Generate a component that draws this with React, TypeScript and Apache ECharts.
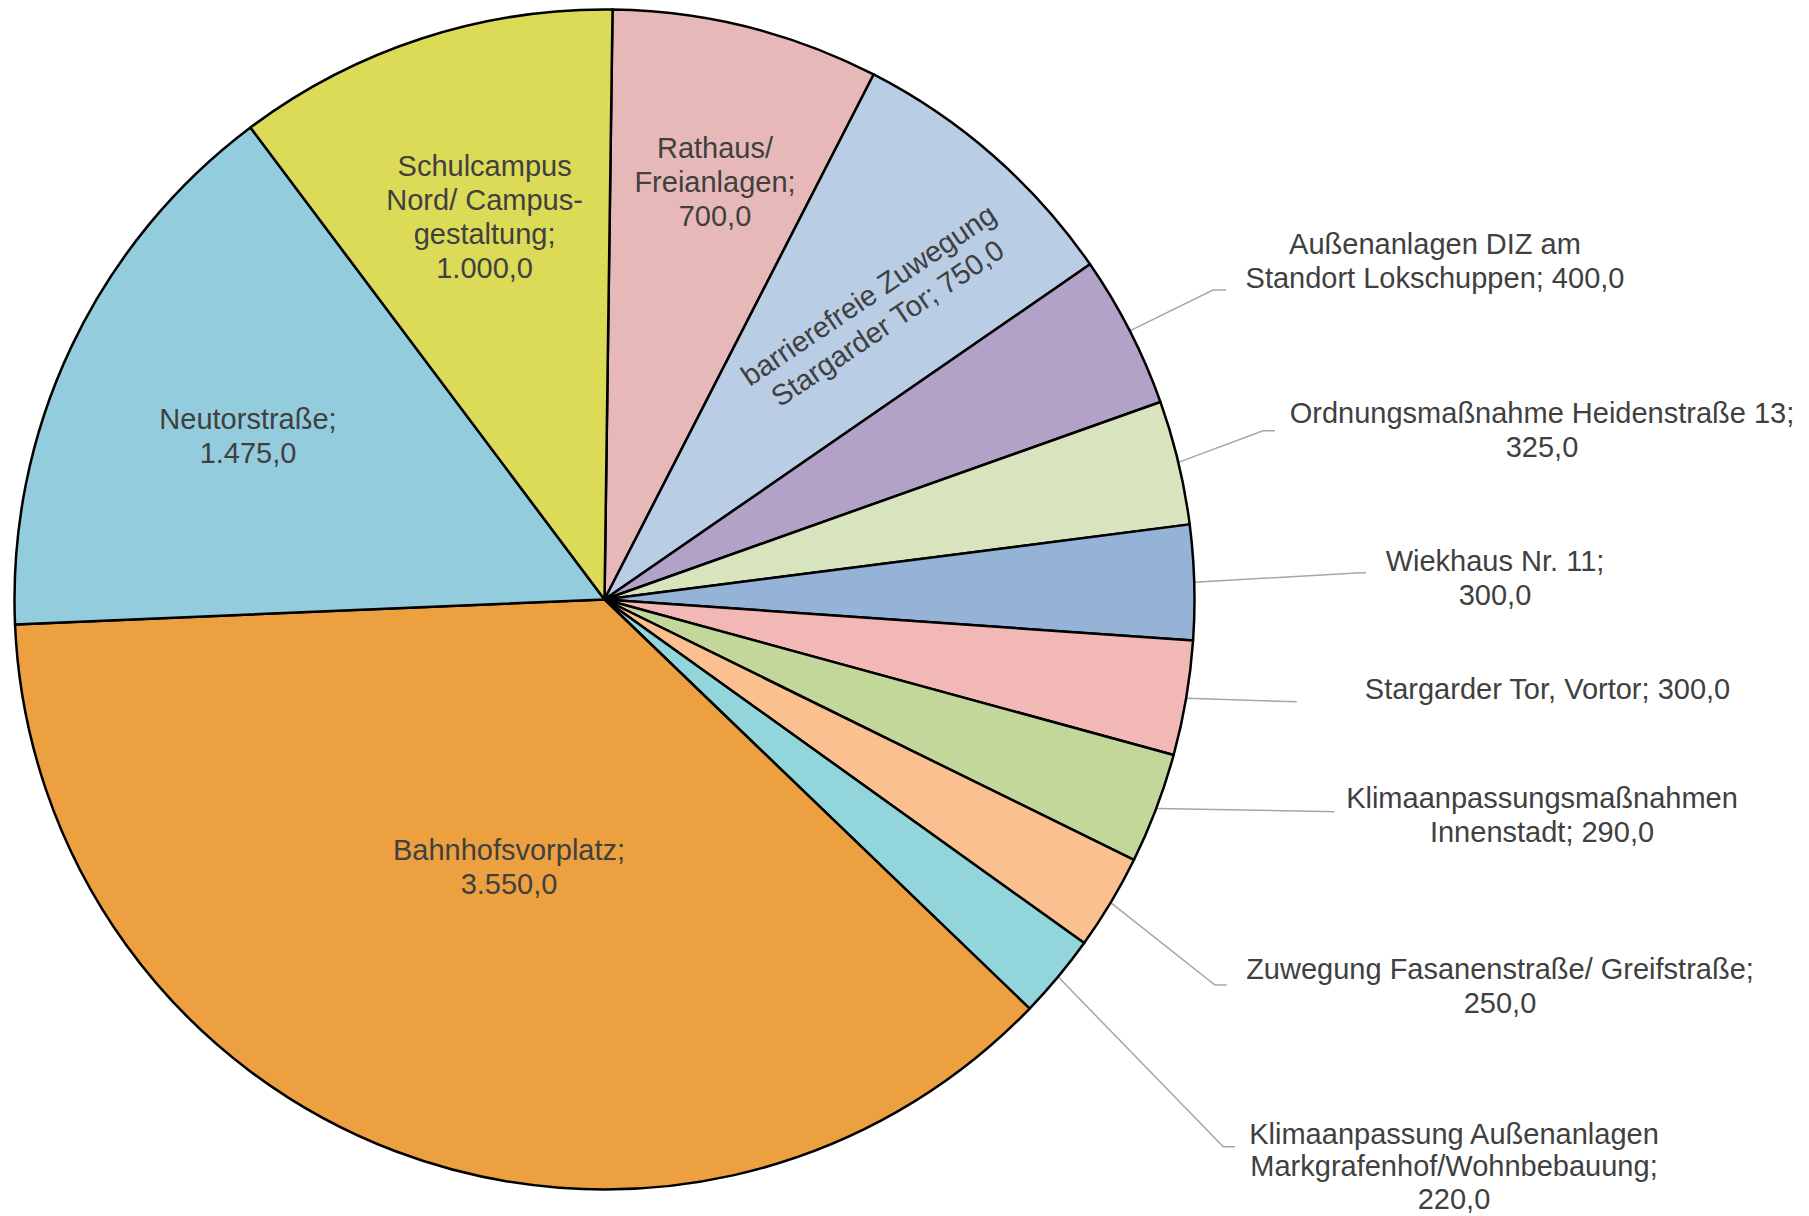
import React, { useEffect, useRef } from "react";
import * as echarts from "echarts";

// ---- data (clockwise from 12 o'clock) ----
const categories: string[] = [
  "Rathaus/\nFreianlagen",
  "barrierefreie Zuwegung\nStargarder Tor",
  "Außenanlagen DIZ am\nStandort Lokschuppen",
  "Ordnungsmaßnahme Heidenstraße 13",
  "Wiekhaus Nr. 11",
  "Stargarder Tor, Vortor",
  "Klimaanpassungsmaßnahmen\nInnenstadt",
  "Zuwegung Fasanenstraße/ Greifstraße",
  "Klimaanpassung Außenanlagen\nMarkgrafenhof/Wohnbebauung",
  "Bahnhofsvorplatz",
  "Neutorstraße",
  "Schulcampus\nNord/ Campus-\ngestaltung",
];
const values: number[] = [700, 750, 400, 325, 300, 300, 290, 250, 220, 3550, 1475, 1000];
// whether the value is written on its own line in the data label
const valueOnNewLine: boolean[] = [true, false, false, true, true, false, false, true, true, true, true, true];

// ---- styling / placement (kept separate from data) ----
const colors = [
  "#E6B9B8", "#B9CDE5", "#B3A2C7", "#D7E4BD", "#95B3D7", "#F1B8B5",
  "#C4D79B", "#FAC090", "#92D6DC", "#EDA03F", "#93CDDD", "#DBDB57",
];

type Placement = {
  inside?: boolean;
  x: number;
  y: number;
  rotate?: number;
  lineHeight?: number;
  elbow?: [number, number];
  end?: [number, number];
};

const placements: Placement[] = [
  { inside: true, x: 715, y: 181.5 },
  { inside: true, x: 878, y: 309, rotate: 34 },
  { x: 1435, y: 261, elbow: [1213, 290], end: [1226, 290] },
  { x: 1542, y: 430, elbow: [1263, 430.7], end: [1275, 430.7] },
  { x: 1495, y: 578, elbow: [1356, 573], end: [1366, 572.7] },
  { x: 1547.5, y: 688.5, elbow: [1287, 701.5], end: [1296.7, 701.7] },
  { x: 1542, y: 815, elbow: [1324, 811.6], end: [1334.3, 811.7] },
  { x: 1500, y: 986.3, elbow: [1215, 985], end: [1226.7, 985] },
  { x: 1454, y: 1166, lineHeight: 32.5, elbow: [1223.3, 1146.7], end: [1235, 1146.7] },
  { inside: true, x: 509, y: 867 },
  { inside: true, x: 248, y: 435.5 },
  { inside: true, x: 484.6, y: 217 },
];

const CENTER: [number, number] = [604.5, 599.5];
const RADIUS = 590;
const START_ANGLE = 89.22;

function fmtDE(v: number): string {
  const [i, d] = v.toFixed(1).split(".");
  return i.replace(/\B(?=(\d{3})+(?!\d))/g, ".") + "," + d;
}

export default function App() {
  const ref = useRef<HTMLDivElement>(null);

  useEffect(() => {
    document.body.style.margin = "0";
    if (!ref.current) return;
    const chart = echarts.init(ref.current, undefined, { renderer: "svg" });

    const total = values.reduce((a, b) => a + b, 0);
    const midAngles: number[] = [];
    let acc = 0;
    values.forEach((v) => {
      // clockwise angle from 12 o'clock, degrees
      midAngles.push(90 - START_ANGLE + ((acc + v / 2) / total) * 360);
      acc += v;
    });

    const data = values.map((v, i) => {
      const p = placements[i];
      const label: any = { position: p.inside ? "inside" : "outside" };
      if (p.lineHeight) label.lineHeight = p.lineHeight;
      return {
        name: categories[i],
        value: v,
        itemStyle: { color: colors[i] },
        label,
        labelLine: { show: !p.inside },
      };
    });

    chart.setOption({
      animation: false,
      backgroundColor: "#ffffff",
      series: [
        {
          type: "pie",
          center: CENTER,
          radius: RADIUS,
          startAngle: START_ANGLE,
          clockwise: true,
          avoidLabelOverlap: false,
          emphasis: { disabled: true },
          silent: true,
          itemStyle: { borderColor: "#000000", borderWidth: 2.5 },
          label: {
            show: true,
            color: "#404040",
            fontFamily: "'Liberation Sans', Arial, sans-serif",
            fontSize: 29,
            lineHeight: 34,
            width: 700,
            overflow: "none",
            align: "center",
            formatter: (p: any) =>
              p.name + ";" + (valueOnNewLine[p.dataIndex] ? "\n" : " ") + fmtDE(p.value),
          },
          labelLine: {
            show: true,
            length: 10,
            length2: 10,
            lineStyle: { color: "#A6A6A6", width: 1.5 },
          },
          labelLayout: (params: any) => {
            const i = params.dataIndex;
            const p = placements[i];
            if (p.inside) {
              return {
                x: p.x,
                y: p.y,
                align: "center",
                verticalAlign: "middle",
                rotate: p.rotate || 0,
              };
            }
            const a = (midAngles[i] * Math.PI) / 180;
            const fallback: [number, number] = [
              CENTER[0] + RADIUS * Math.sin(a),
              CENTER[1] - RADIUS * Math.cos(a),
            ];
            const start =
              params.labelLinePoints && params.labelLinePoints[0]
                ? params.labelLinePoints[0]
                : fallback;
            return {
              x: p.x,
              y: p.y,
              align: "center",
              verticalAlign: "middle",
              labelLinePoints: [start, p.elbow, p.end],
            };
          },
          data,
        },
      ],
    });

    return () => chart.dispose();
  }, []);

  return <div ref={ref} style={{ width: 1809, height: 1216 }} />;
}
